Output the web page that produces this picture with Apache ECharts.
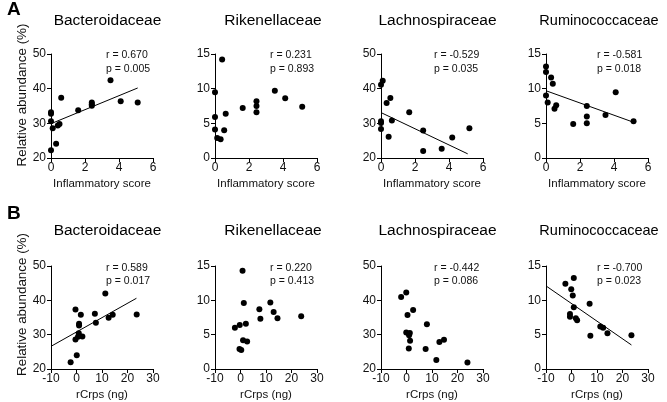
<!DOCTYPE html>
<html>
<head>
<meta charset="utf-8">
<script src="https://cdn.jsdelivr.net/npm/echarts@6/dist/echarts.min.js"></script>
<style>
html,body{margin:0;padding:0;background:#fff;}
#chart{width:667px;height:402px;}
</style>
</head>
<body>
<div id="chart"></div>
<script>
// ---- data ----
const familyNames = ['Bacteroidaceae', 'Rikenellaceae', 'Lachnospiraceae', 'Ruminococcaceae'];
const rowXNames = ['Inflammatory score', 'rCrps (ng)'];
const yAxisName = 'Relative abundance (%)';
const panelLetters = ['A', 'B'];

// Row A: inflammatory score vs abundance
const inflBacteroidaceae = [[0,22.2],[0,33.2],[0,32.8],[0,30.6],[0.1,28.6],[0.3,24.1],[0.4,29.4],[0.5,29.8],[0.6,37.4],[1.6,33.8],[2.4,36.0],[2.4,35.5],[2.4,35.1],[3.5,42.4],[4.1,36.4],[5.1,36.0]];
const inflRikenellaceae = [[0,9.5],[0,5.9],[0,4.1],[0.13,2.9],[0.33,2.7],[0.42,14.2],[0.54,4.0],[0.63,6.4],[1.63,7.2],[2.44,8.2],[2.44,7.5],[2.44,6.6],[3.52,9.7],[4.13,8.6],[5.13,7.4]];
const inflLachnospiraceae = [[0,41.1],[0.1,42.3],[0,30.6],[0,30.1],[0,28.4],[0.33,35.9],[0.55,37.3],[0.45,26.1],[0.64,30.8],[1.66,33.2],[2.48,27.9],[2.48,22.0],[3.57,22.7],[4.19,25.9],[5.2,28.6]];
const inflRuminococcaceae = [[0,13.2],[0,12.4],[0,9.0],[0.1,8.0],[0.3,11.6],[0.4,10.7],[0.5,7.1],[0.6,7.6],[1.6,4.9],[2.4,7.5],[2.4,6.0],[2.4,5.0],[3.5,6.2],[4.1,9.5],[5.15,5.3]];

// Row B: rCrps vs abundance
const crpsBacteroidaceae = [[-2.3,22.0],[-0.4,37.3],[-0.4,28.6],[0.1,24.0],[1.7,35.8],[1.0,33.2],[1.0,32.7],[0.9,30.4],[0.6,29.4],[2.3,29.5],[7.2,36.1],[7.6,33.5],[11.3,42.0],[12.6,34.9],[14.2,35.8],[23.6,35.9]];
const crpsRikenellaceae = [[-2.2,6.0],[-0.3,6.4],[0.8,14.3],[1.3,9.6],[2.1,6.6],[1.0,4.2],[2.6,4.0],[-0.4,2.9],[0.3,2.75],[7.4,8.7],[7.8,7.3],[11.7,9.7],[13.0,8.3],[14.5,7.4],[23.8,7.7]];
const crpsLachnospiraceae = [[-2.1,41.0],[-0.1,42.3],[0.4,35.7],[2.6,37.2],[-0.1,30.6],[1.3,30.5],[1.0,29.8],[1.4,28.2],[0.9,26.0],[8.0,33.0],[7.5,25.8],[11.7,22.6],[12.9,27.9],[14.7,28.5],[23.9,21.9]];
const crpsRuminococcaceae = [[-2.4,12.4],[0.9,13.25],[-0.1,11.6],[0.5,10.7],[0.9,9.0],[-0.6,8.0],[-0.6,7.6],[1.7,7.4],[2.2,7.1],[7.1,9.5],[7.4,4.85],[11.3,6.2],[12.4,6.0],[14.1,5.2],[23.5,4.9]];

// regression lines (null = no line drawn)
const fitInflBacteroidaceae = [[0,29.9],[5.1,40.2]];
const fitInflLachnospiraceae = [[0,33.1],[5.1,21.2]];
const fitInflRuminococcaceae = [[0,9.7],[5.1,5.2]];
const fitCrpsBacteroidaceae = [[-10,26.6],[23.5,40.6]];
const fitCrpsRuminococcaceae = [[-10,12.1],[23.5,3.5]];

const statsInfl = [['r = 0.670','p = 0.005'],['r = 0.231','p = 0.893'],['r = -0.529','p = 0.035'],['r = -0.581','p = 0.018']];
const statsCrps = [['r = 0.589','p = 0.017'],['r = 0.220','p = 0.413'],['r = -0.442','p = 0.086'],['r = -0.700','p = 0.023']];

// axis ranges
const xRangeInfl = {min: 0, max: 6, interval: 2};
const xRangeCrps = {min: -10, max: 30, interval: 10};
const yRanges = [{min:20,max:50,interval:10},{min:0,max:15,interval:5},{min:20,max:50,interval:10},{min:0,max:15,interval:5}];

// ---- layout ----
const FONT = 'Liberation Sans';
const gridLefts = [51, 215, 381, 546];
const gridW = 102, gridH = 104;
const rowTops = [54, 266];
const statOffsets = [50, 50, 48, 46];
const titleCenters = [102.5, 268, 432.5, 594];
const titleSizes = [15.5, 15.5, 15.5, 14.5];
const titleTops = [8, 218];
const statTops = [[45, 58.5], [258, 271]];
const letterTops = [-5, 199];
const yNamePad = [22, 26];

const rows = [
  {scatter: [inflBacteroidaceae, inflRikenellaceae, inflLachnospiraceae, inflRuminococcaceae],
   fits: [fitInflBacteroidaceae, null, fitInflLachnospiraceae, fitInflRuminococcaceae],
   stats: statsInfl, xr: xRangeInfl},
  {scatter: [crpsBacteroidaceae, crpsRikenellaceae, crpsLachnospiraceae, crpsRuminococcaceae],
   fits: [fitCrpsBacteroidaceae, null, null, fitCrpsRuminococcaceae],
   stats: statsCrps, xr: xRangeCrps}
];

const grid = [], xAxis = [], yAxis = [], series = [], title = [];
const axisLineStyle = {show: true, onZero: false, lineStyle: {color: '#000', width: 1}};
const axisTickStyle = {show: true, inside: false, length: 4, lineStyle: {color: '#000', width: 1}};

rows.forEach((row, r) => {
  const top = rowTops[r];
  title.push({text: panelLetters[r], left: 2, top: letterTops[r],
    textStyle: {fontFamily: FONT, fontSize: 19, fontWeight: 'bold', color: '#000'}});
  for (let c = 0; c < 4; c++) {
    const idx = r * 4 + c;
    grid.push({left: gridLefts[c], top: top, width: gridW, height: gridH, containLabel: false});
    xAxis.push({type: 'value', gridIndex: idx, min: row.xr.min, max: row.xr.max, interval: row.xr.interval,
      axisLine: axisLineStyle, axisTick: axisTickStyle, splitLine: {show: false},
      axisLabel: {fontFamily: FONT, fontSize: 12, color: '#111', margin: 4},
      name: rowXNames[r], nameLocation: 'middle', nameGap: 20,
      nameTextStyle: {fontFamily: FONT, fontSize: 11.5, color: '#111'}});
    yAxis.push({type: 'value', gridIndex: idx, min: yRanges[c].min, max: yRanges[c].max, interval: yRanges[c].interval,
      axisLine: axisLineStyle, axisTick: axisTickStyle, splitLine: {show: false},
      axisLabel: {fontFamily: FONT, fontSize: 12, color: '#111', margin: 5},
      name: c === 0 ? yAxisName : '', nameLocation: 'middle', nameGap: 19.5, nameRotate: 90,
      nameTextStyle: {fontFamily: FONT, fontSize: 13.4, color: '#111', padding: [0, 0, 0, yNamePad[r]]}});
    series.push({type: 'scatter', xAxisIndex: idx, yAxisIndex: idx, data: row.scatter[c],
      symbol: 'circle', symbolSize: 6, itemStyle: {color: '#000', opacity: 1}, silent: true, clip: false});
    if (row.fits[c]) {
      series.push({type: 'line', xAxisIndex: idx, yAxisIndex: idx, data: row.fits[c],
        symbol: 'none', lineStyle: {color: '#000', width: 1}, silent: true});
    }
    title.push({text: familyNames[c], left: titleCenters[c], textAlign: 'center', top: titleTops[r],
      textStyle: {fontFamily: FONT, fontSize: titleSizes[c], fontWeight: 'normal', color: '#000'}});
    title.push({text: row.stats[c][0], left: gridLefts[c] + statOffsets[c], top: statTops[r][0],
      textStyle: {fontFamily: FONT, fontSize: 10.5, fontWeight: 'normal', color: '#111'}});
    title.push({text: row.stats[c][1], left: gridLefts[c] + statOffsets[c], top: statTops[r][1],
      textStyle: {fontFamily: FONT, fontSize: 10.5, fontWeight: 'normal', color: '#111'}});
  }
});

const chart = echarts.init(document.getElementById('chart'), null, {renderer: 'canvas'});
chart.setOption({
  backgroundColor: '#fff',
  animation: false,
  title: title,
  grid: grid,
  xAxis: xAxis,
  yAxis: yAxis,
  series: series
});
</script>
</body>
</html>
